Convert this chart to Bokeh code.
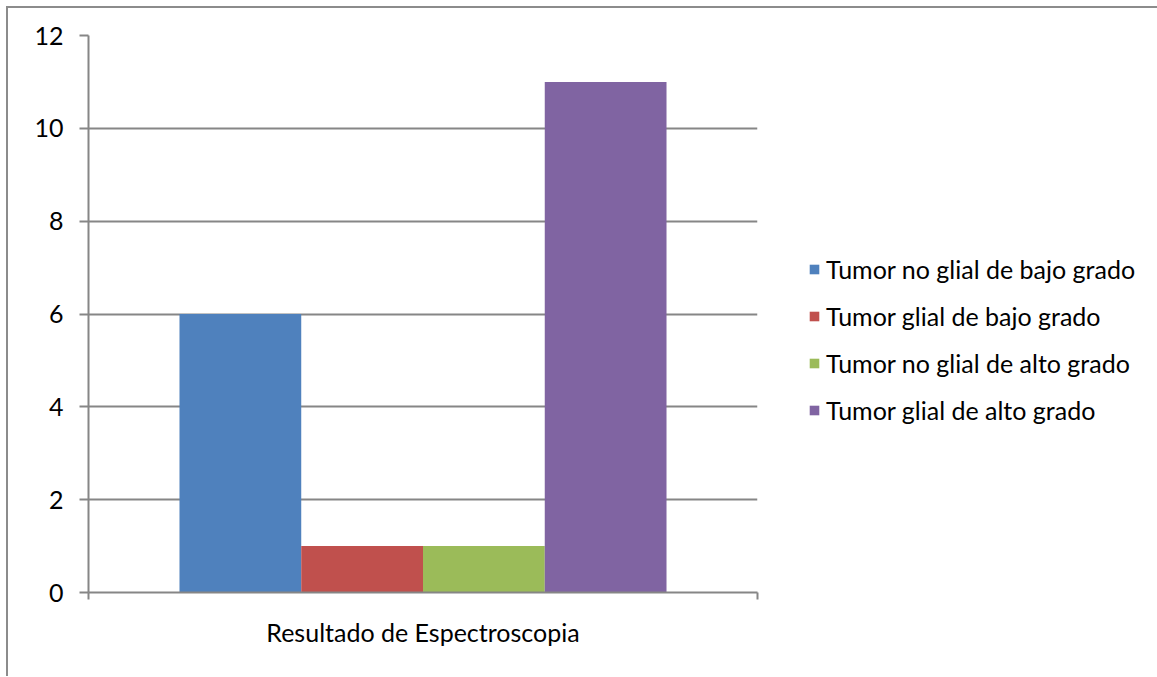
from bokeh.plotting import figure
from bokeh.models import (Range1d, FixedTicker, Legend, LegendItem, ColumnDataSource)
from bokeh.transform import dodge
from bokeh.embed import file_html
from bokeh.resources import INLINE

categories = ["Resultado de Espectroscopia"]
series_names = ["Tumor no glial de bajo grado", "Tumor glial de bajo grado",
                "Tumor no glial de alto grado", "Tumor glial de alto grado"]
serie_1 = [6]
serie_2 = [1]
serie_3 = [1]
serie_4 = [11]
series_values = [serie_1, serie_2, serie_3, serie_4]
colors = ["#4F81BD", "#C0504D", "#9BBB59", "#8064A2"]
y_ticks = [0, 2, 4, 6, 8, 10, 12]

FONT = "Lato"
FS = "25px"
GRAY = "#868686"

p = figure(frame_width=669, frame_height=557,
           x_range=Range1d(0, len(categories)),
           y_range=Range1d(0, 12),
           output_backend="svg", toolbar_location=None,
           min_border_left=80, min_border_top=27,
           min_border_bottom=84, min_border_right=0)
p.styles = {"border-left": "2px solid #8c8c8c", "border-top": "2px solid #8c8c8c",
            "margin-left": "6px", "margin-top": "6px"}
p.outline_line_color = None
p.background_fill_color = "white"

xa = p.xaxis[0]
edge_ticks = list(range(len(categories) + 1))
xa.ticker = FixedTicker(ticks=edge_ticks)
xa.major_label_overrides = {t: "" for t in edge_ticks}
xa.axis_label = categories[0]
xa.major_label_standoff = 0
xa.major_tick_out = 7
xa.major_tick_in = 0
xa.minor_tick_line_color = None
xa.axis_line_color = GRAY
xa.major_tick_line_color = GRAY
xa.axis_line_width = 2
xa.major_tick_line_width = 2
xa.axis_label_text_font = FONT
xa.axis_label_text_font_size = FS
xa.axis_label_text_font_style = "normal"
xa.axis_label_text_color = "black"
xa.axis_label_standoff = 17

ya = p.yaxis[0]
ya.ticker = FixedTicker(ticks=y_ticks)
ya.major_tick_out = 9
ya.major_tick_in = 0
ya.minor_tick_line_color = None
ya.axis_line_color = GRAY
ya.major_tick_line_color = GRAY
ya.axis_line_width = 2
ya.major_tick_line_width = 2
ya.major_label_standoff = 16
ya.major_label_text_font = FONT
ya.major_label_text_font_size = FS
ya.major_label_text_color = "black"

p.ygrid.grid_line_color = GRAY
p.ygrid.grid_line_width = 2
p.xgrid.grid_line_color = None

positions = [i + 0.5 for i in range(len(categories))]
offsets = [-0.273, -0.091, 0.091, 0.273]
items = []
for name, vals, col, off in zip(series_names, series_values, colors, offsets):
    src = ColumnDataSource(dict(pos=positions, cat=categories, val=vals))
    r = p.vbar(x=dodge("pos", off), top="val", width=0.182,
               source=src, fill_color=col, line_color=None)
    items.append(LegendItem(label=name, renderers=[r]))

legend = Legend(items=items, location=(51, 167), orientation="vertical",
                border_line_color=None, background_fill_alpha=0,
                padding=0, margin=0, spacing=17, glyph_width=12, glyph_height=12,
                label_height=26, label_standoff=6,
                label_text_font=FONT, label_text_font_size=FS,
                label_text_color="black")
p.add_layout(legend, "right")

open("out.html", "w").write(file_html(p, INLINE))
